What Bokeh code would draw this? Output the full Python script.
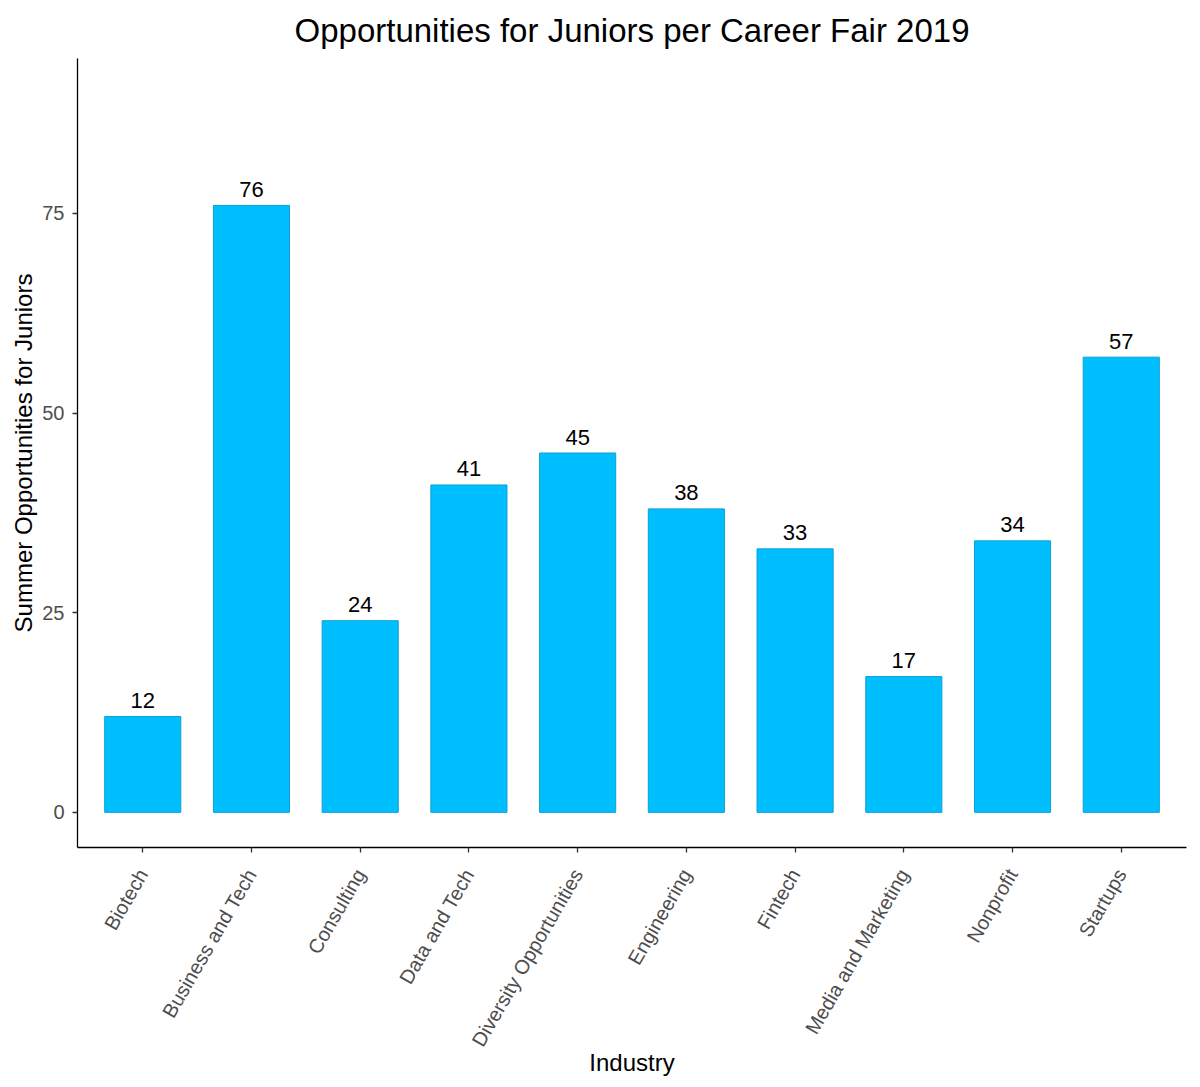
import math
from bokeh.plotting import figure
from bokeh.models import Range1d, FixedTicker, ColumnDataSource
from bokeh.core.properties import value
from bokeh.embed import file_html
from bokeh.resources import INLINE

industries = ["Biotech", "Business and Tech", "Consulting", "Data and Tech",
              "Diversity Opportunities", "Engineering", "Fintech",
              "Media and Marketing", "Nonprofit", "Startups"]
opportunities = [12, 76, 24, 41, 45, 38, 33, 17, 34, 57]
y_ticks = [0, 25, 50, 75]

xs = list(range(1, len(industries) + 1))
src = ColumnDataSource(dict(x=xs, top=opportunities,
                            label=[str(v) for v in opportunities]))

FONT = "Liberation Sans"

p = figure(width=1190, height=1080, output_backend="svg", toolbar_location=None,
           x_range=Range1d(0.4, 10.6), y_range=Range1d(-4.4, 94.4),
           min_border_left=77, min_border_right=4, min_border_top=57,
           min_border_bottom=233)

p.title.text = "Opportunities for Juniors per Career Fair 2019"
p.title.align = "center"
p.title.text_font = FONT
p.title.text_font_size = "33px"
p.title.text_font_style = "normal"
p.title.text_color = "black"
p.title.standoff = 19

p.vbar(x="x", top="top", bottom=0, width=0.7, source=src,
       fill_color="#00BFFF", line_color="#0D9FD6", line_width=1)

p.text(x="x", y="top", text="label", source=src, y_offset=-16,
       text_align="center", text_baseline="alphabetic",
       text_font=value(FONT), text_font_size="22px", text_color="black")

p.xgrid.visible = False
p.ygrid.visible = False
p.outline_line_color = None

p.xaxis.ticker = FixedTicker(ticks=xs)
p.xaxis.major_label_overrides = {x: n for x, n in zip(xs, industries)}
p.xaxis.major_label_orientation = math.pi / 3
p.yaxis.ticker = FixedTicker(ticks=y_ticks)

for ax in (p.xaxis, p.yaxis):
    ax.axis_line_color = "black"
    ax.axis_line_width = 1.3
    ax.major_tick_line_color = "#333333"
    ax.major_tick_line_width = 1.3
    ax.major_tick_out = 5
    ax.major_tick_in = 0
    ax.minor_tick_line_color = None
    ax.major_label_text_font = FONT
    ax.major_label_text_font_size = "20px"
    ax.major_label_text_color = "#4D4D4D"
    ax.axis_label_text_font = FONT
    ax.axis_label_text_font_size = "24px"
    ax.axis_label_text_font_style = "normal"
    ax.axis_label_text_color = "black"

p.xaxis.axis_label = "Industry"
p.yaxis.axis_label = "Summer Opportunities for Juniors"
p.yaxis.major_label_standoff = 8
p.xaxis.major_label_standoff = 18
p.yaxis.axis_label_standoff = 2
p.xaxis.axis_label_standoff = -10

open("out.html", "w").write(file_html(p, INLINE))
